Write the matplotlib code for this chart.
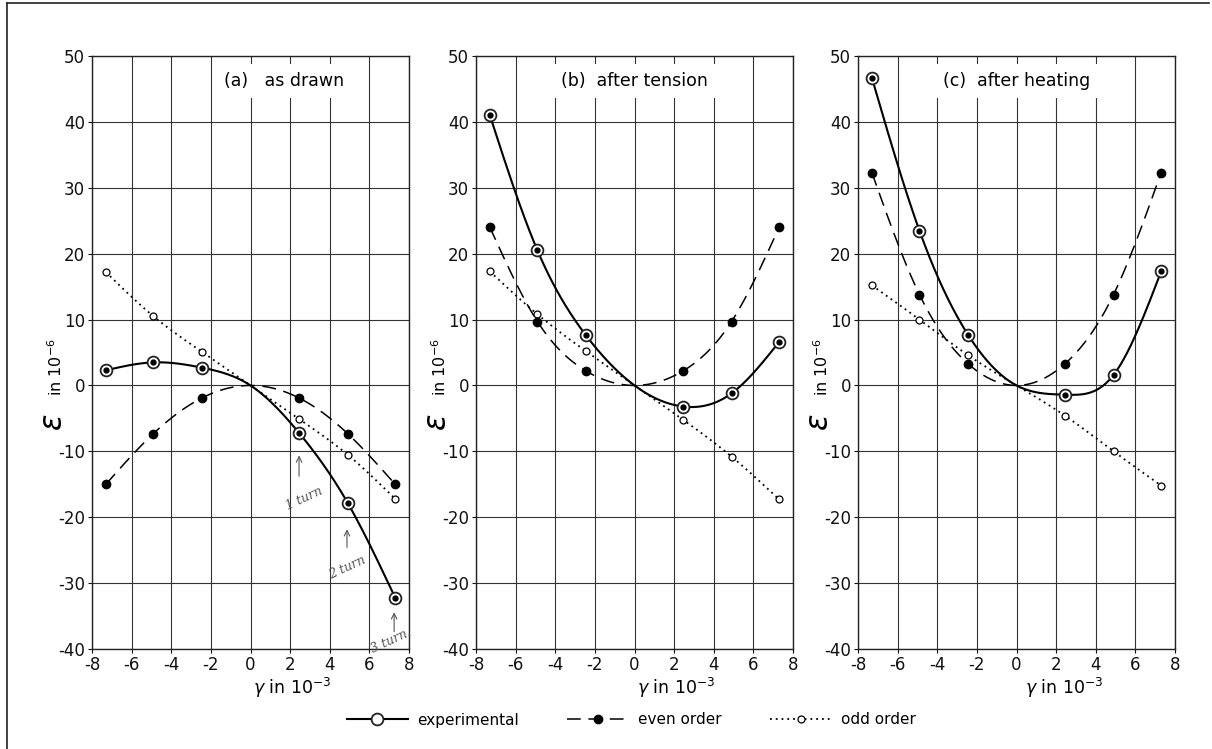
import numpy as np
import matplotlib
matplotlib.use("Agg")
import matplotlib.pyplot as plt
from matplotlib.lines import Line2D

# ---------------- data ----------------
gamma = [-7.3, -4.9, -2.45, 2.45, 4.9, 7.3]

titles = ["(a)   as drawn", "(b)  after tension", "(c)  after heating"]
title_x = [1.7, 0.0, 0.0]

exp_a = [2.3, 3.5, 2.7, -7.2, -17.8, -32.2]
even_a = [-15.0, -7.3, -1.9, -1.9, -7.3, -15.0]
odd_a = [17.2, 10.5, 5.1, -5.1, -10.5, -17.2]

exp_b = [41.0, 20.5, 7.6, -3.2, -1.2, 6.6]
even_b = [24.0, 9.7, 2.2, 2.2, 9.7, 24.0]
odd_b = [17.3, 10.8, 5.2, -5.2, -10.8, -17.3]

exp_c = [46.7, 23.5, 7.7, -1.4, 1.6, 17.3]
even_c = [32.3, 13.8, 3.3, 3.3, 13.8, 32.3]
odd_c = [15.2, 10.0, 4.6, -4.6, -10.0, -15.2]

xticks = [-8, -6, -4, -2, 0, 2, 4, 6, 8]
yticks = [-40, -30, -20, -10, 0, 10, 20, 30, 40, 50]

legend_labels = ["experimental", "even order", "odd order"]


def natural_spline(xk, yk, xs):
    xk = np.asarray(xk, float)
    yk = np.asarray(yk, float)
    n = len(xk)
    h = np.diff(xk)
    A = np.zeros((n, n))
    r = np.zeros(n)
    A[0, 0] = 1
    A[-1, -1] = 1
    for i in range(1, n - 1):
        A[i, i - 1] = h[i - 1]
        A[i, i] = 2 * (h[i - 1] + h[i])
        A[i, i + 1] = h[i]
        r[i] = 3 * ((yk[i + 1] - yk[i]) / h[i] - (yk[i] - yk[i - 1]) / h[i - 1])
    c = np.linalg.solve(A, r)
    b = (np.diff(yk) / h) - h * (2 * c[:-1] + c[1:]) / 3
    d = np.diff(c) / (3 * h)
    idx = np.clip(np.searchsorted(xk, xs) - 1, 0, n - 2)
    dx = xs - xk[idx]
    return yk[idx] + b[idx] * dx + c[idx] * dx ** 2 + d[idx] * dx ** 3


def curve(xv, yv):
    # every curve passes through the origin (zero shear -> zero strain)
    xk = np.array(list(xv[:3]) + [0.0] + list(xv[3:]))
    yk = np.array(list(yv[:3]) + [0.0] + list(yv[3:]))
    xs = np.linspace(xk[0], xk[-1], 400)
    return xs, natural_spline(xk, yk, xs)


plt.rcParams['font.family'] = ['DejaVu Sans']
fig = plt.figure(figsize=(12.12, 7.49), dpi=100)

W, H = 1212, 749
lefts = [92, 476, 858]
aw = 317
top, bot = 56, 649
xlabel_pos = [0.63, 0.63, 0.65]

panels = [(exp_a, even_a, odd_a), (exp_b, even_b, odd_b), (exp_c, even_c, odd_c)]

exp_style = dict(color='black', lw=1.5, ls='-')
even_style = dict(color='black', lw=1.1, ls=(0, (9, 5)))
odd_style = dict(color='black', lw=1.3, ls=(0, (1, 2.2)))

def draw_exp_markers(ax, x, y):
    ax.plot(x, y, ls='none', marker='o', ms=8.5, mfc='white', mec='#222222', mew=1.3, zorder=5)
    ax.plot(x, y, ls='none', marker='o', ms=3.5, mfc='black', mec='black', zorder=6)

for k, (ex, ev, od) in enumerate(panels):
    ax = fig.add_axes([lefts[k] / W, 1 - bot / H, aw / W, (bot - top) / H])
    ax.set_xlim(-8, 8)
    ax.set_ylim(-40, 50)
    ax.set_xticks(xticks)
    ax.set_yticks(yticks)
    ax.set_xticklabels([str(t) for t in xticks])
    ax.set_yticklabels([str(t) for t in yticks])
    ax.tick_params(labelsize=12, length=3, width=0.8, pad=2, colors='#111111')
    ax.grid(True, color='#333333', lw=0.8)
    ax.set_axisbelow(True)
    for s in ax.spines.values():
        s.set_linewidth(1.0)
        s.set_color('#222222')

    xs, ys = curve(gamma, od)
    ax.plot(xs, ys, **odd_style, zorder=3)
    ax.plot(gamma, od, ls='none', marker='o', ms=5, mfc='white', mec='black', mew=0.9, zorder=5)

    xs, ys = curve(gamma, ev)
    ax.plot(xs, ys, **even_style, zorder=3)
    ax.plot(gamma, ev, ls='none', marker='o', ms=6, mfc='black', mec='black', zorder=5)

    xs, ys = curve(gamma, ex)
    ax.plot(xs, ys, **exp_style, zorder=4)
    draw_exp_markers(ax, gamma, ex)

    ax.text(title_x[k], 46.2, titles[k], ha='center', va='center', fontsize=12.5,
            bbox=dict(facecolor='white', edgecolor='none', pad=6), zorder=7)

    ax.set_xlabel(r'$\gamma$ in 10$^{-3}$', fontsize=12.5, labelpad=2)
    ax.xaxis.set_label_coords(xlabel_pos[k], -0.045)
    ax.xaxis.label.set_verticalalignment('top')

    # y label: large epsilon and small "in 10^-6"
    ax.text(-0.123, 0.383, r'$\varepsilon$', rotation=90, fontsize=22,
            transform=ax.transAxes, ha='center', va='center')
    ax.text(-0.114, 0.475, r'in 10$^{-6}$', rotation=90, fontsize=11.5,
            transform=ax.transAxes, ha='center', va='center')

    if k == 0:
        hand = dict(color='#555555', fontsize=9, style='italic', family='DejaVu Serif')
        arrow = dict(arrowstyle='->', color='#555555', lw=0.8)
        ax.annotate('', xy=(2.45, -10.2), xytext=(2.45, -14.2), arrowprops=arrow)
        ax.text(2.7, -17.2, '1 turn', rotation=25, ha='center', va='center', **hand)
        ax.annotate('', xy=(4.87, -21.4), xytext=(4.87, -25.0), arrowprops=arrow)
        ax.text(4.9, -27.6, '2 turn', rotation=25, ha='center', va='center', **hand)
        ax.annotate('', xy=(7.25, -34.0), xytext=(7.25, -37.8), arrowprops=arrow)
        ax.text(7.1, -38.8, '3 turn.', rotation=25, ha='center', va='center', clip_on=False, **hand)

# legend
h1 = Line2D([], [], **exp_style, marker='o', ms=8.5, mfc='white', mec='#222222', mew=1.3)
h2 = Line2D([], [], **even_style, marker='o', ms=6, mfc='black', mec='black')
h3 = Line2D([], [], **odd_style, marker='o', ms=5, mfc='white', mec='black', mew=0.9)
fig.legend([h1, h2, h3], legend_labels, loc='center', bbox_to_anchor=(631 / W, 1 - 720 / H),
           ncol=3, frameon=False, fontsize=11, handlelength=4.0, handletextpad=0.6,
           columnspacing=3.2, numpoints=1)

# scanned page edges (left and top)
fig.add_artist(Line2D([7 / W, 7 / W], [0, 1 - 3 / H], transform=fig.transFigure,
                      color='#222222', lw=1.2))
fig.add_artist(Line2D([7 / W, 1 - 3 / W], [1 - 3 / H, 1 - 3 / H], transform=fig.transFigure,
                      color='#222222', lw=1.2))

fig.savefig('out.png', dpi=100)
